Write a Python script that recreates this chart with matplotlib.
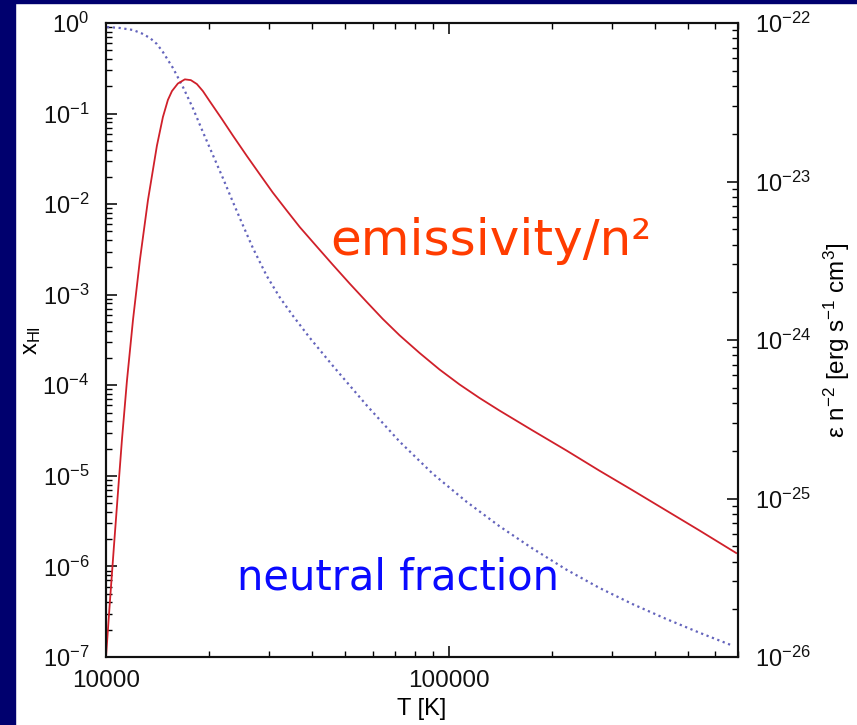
import matplotlib
matplotlib.use("Agg")
import matplotlib.pyplot as plt
from matplotlib.patches import Rectangle
from matplotlib.ticker import (LogLocator, FixedLocator, FixedFormatter,
                               NullFormatter, LogFormatterSciNotation)

# -----------------------------
# Data
# -----------------------------
# emissivity / n^2 [erg s^-1 cm^3], right axis
temp_emis = [10000, 10270, 10550, 10840, 11130, 11510, 11990, 12560, 13260,
             14080, 14660, 15160, 15580, 16210, 16990, 17690, 18420, 19180,
             20100, 21790, 23460, 25770, 28120, 30680, 33700, 36780, 41230,
             45890, 51450, 57670, 64220, 71970, 82330, 94150, 107700, 123100,
             140800, 175800, 220800, 275500, 343900, 432100, 539200, 691500]
emissivity = [1.0e-26, 2.26e-26, 5.02e-26, 1.10e-25, 2.34e-25, 5.51e-25,
              1.34e-24, 3.20e-24, 7.64e-24, 1.68e-23, 2.55e-23, 3.27e-23,
              3.72e-23, 4.15e-23, 4.41e-23, 4.36e-23, 4.12e-23, 3.72e-23,
              3.20e-23, 2.48e-23, 1.95e-23, 1.45e-23, 1.11e-23, 8.52e-24,
              6.56e-24, 5.16e-24, 3.89e-24, 2.99e-24, 2.27e-24, 1.74e-24,
              1.36e-24, 1.07e-24, 8.28e-25, 6.51e-25, 5.24e-25, 4.31e-25,
              3.59e-25, 2.69e-25, 2.01e-25, 1.50e-25, 1.13e-25, 8.40e-26,
              6.30e-26, 4.53e-26]

# neutral hydrogen fraction x_HI, left axis
temp_xhi = [10070, 10985, 11990, 12730, 13440, 14080, 14660, 15680, 16770,
            17930, 19180, 20510, 21930, 23460, 25080, 26830, 29470, 32160,
            35100, 39330, 45890, 57670, 71970, 89830, 112850, 140800, 175800,
            220800, 275500, 343900, 432100, 539200, 673000]
x_hi = [0.903, 0.881, 0.837, 0.766, 0.683, 0.586, 0.478, 0.319, 0.197,
        0.115, 0.0626, 0.0349, 0.0195, 0.0106, 5.89e-3, 3.29e-3, 1.61e-3,
        9.34e-4, 5.88e-4, 3.35e-4, 1.65e-4, 6.01e-5, 2.39e-5, 1.06e-5,
        5.18e-6, 2.78e-6, 1.58e-6, 9.22e-7, 5.80e-7, 3.85e-7, 2.63e-7,
        1.86e-7, 1.34e-7]

x_ticks = [10000, 100000]
x_tick_labels = ["10000", "100000"]
xhi_ticks = [1e-7, 1e-6, 1e-5, 1e-4, 1e-3, 1e-2, 1e-1, 1e0]
emis_ticks = [1e-26, 1e-25, 1e-24, 1e-23, 1e-22]

NAVY = "#00006e"
RED = "#d0202a"
DOTS = "#6464bc"

plt.rcParams["font.family"] = ["Liberation Sans", "DejaVu Sans"]
plt.rcParams["mathtext.fontset"] = "custom"
plt.rcParams["mathtext.rm"] = "Liberation Sans"
plt.rcParams["mathtext.it"] = "Liberation Sans:italic"
plt.rcParams["mathtext.bf"] = "Liberation Sans:bold"


# -----------------------------
# Axis styling helper
# -----------------------------
def style_log_y(axis_obj, side, ticks):
    axis_obj.set_yscale("log")
    axis_obj.set_ylim(ticks[0], ticks[-1])
    axis_obj.yaxis.set_major_locator(FixedLocator(ticks))
    axis_obj.yaxis.set_minor_locator(LogLocator(base=10, subs=range(2, 10), numticks=100))
    axis_obj.yaxis.set_major_formatter(LogFormatterSciNotation())
    axis_obj.yaxis.set_minor_formatter(NullFormatter())
    axis_obj.tick_params(axis="y", which="both", direction="in",
                         left=(side == "left"), right=(side == "right"),
                         labelleft=(side == "left"), labelright=(side == "right"))
    axis_obj.tick_params(axis="y", which="major", length=8, width=1.2,
                         labelsize=17, pad=12, colors="#111111")
    axis_obj.tick_params(axis="y", which="minor", length=4.5, width=1.0)


# -----------------------------
# Plot
# -----------------------------
def make_plot():
    fig = plt.figure(figsize=(8.57, 7.25), dpi=100, facecolor="white")
    # navy slide border (left and top)
    fig.patches.append(Rectangle((0, 0), 15 / 857, 1, transform=fig.transFigure,
                                 color=NAVY, zorder=0))
    fig.patches.append(Rectangle((0, 1 - 2.5 / 725), 1, 2.5 / 725,
                                 transform=fig.transFigure, color=NAVY, zorder=0))

    ax = fig.add_axes([106 / 857, 1 - 657 / 725, (738 - 106) / 857, (657 - 23) / 725])
    ax.set_xscale("log")
    ax.set_xlim(1e4, 7e5)
    style_log_y(ax, "left", xhi_ticks)

    ax.xaxis.set_major_locator(FixedLocator(x_ticks))
    ax.xaxis.set_major_formatter(FixedFormatter(x_tick_labels))
    ax.xaxis.set_minor_locator(LogLocator(base=10, subs=range(2, 10), numticks=100))
    ax.xaxis.set_minor_formatter(NullFormatter())
    ax.tick_params(axis="x", which="both", direction="in", top=True, bottom=True)
    ax.tick_params(axis="x", which="major", length=8, width=1.2, labelsize=17.5,
                   pad=9.5, colors="#111111")
    ax.tick_params(axis="x", which="minor", length=4.5, width=1.0)

    ax2 = ax.twinx()
    style_log_y(ax2, "right", emis_ticks)

    ax.plot(temp_xhi, x_hi, color=DOTS, lw=1.6, ls=(0, (1, 1.6)))
    ax2.plot(temp_emis, emissivity, color=RED, lw=1.3)

    for a in (ax, ax2):
        for sp in a.spines.values():
            sp.set_linewidth(1.5)
            sp.set_color("#111111")

    ax.set_xlabel("T [K]", fontsize=17)
    ax.xaxis.set_label_coords(0.5, -0.065)
    ax.set_ylabel(r"x$_{\mathrm{HI}}$", fontsize=17)
    ax.yaxis.set_label_coords(-0.099, 0.5)
    ax2.set_ylabel(r"ε n$^{-2}$ [erg s$^{-1}$ cm$^{3}$]", fontsize=17.5)
    ax2.yaxis.set_label_coords(1.132, 0.5)

    fig.text(330 / 857, 1 - 255 / 725, "emissivity/n²", color="#ff3c00",
             fontsize=36, family="DejaVu Sans", ha="left", va="baseline")
    fig.text(237 / 857, 1 - 590 / 725, "neutral fraction", color="#0a0aff",
             fontsize=30, family="DejaVu Sans", ha="left", va="baseline")

    fig.savefig("out.png", dpi=100, facecolor=fig.get_facecolor())
    plt.close(fig)


if __name__ == "__main__":
    make_plot()
